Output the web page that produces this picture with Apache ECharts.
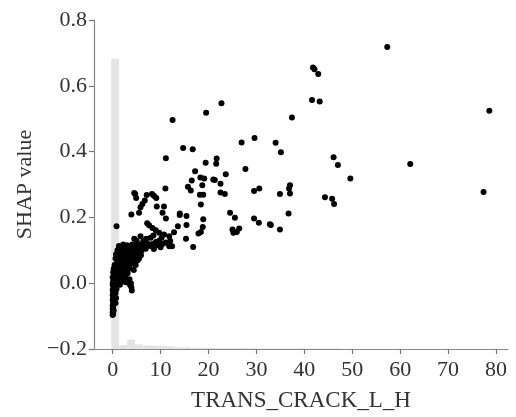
<!DOCTYPE html>
<html>
<head>
<meta charset="utf-8">
<script src="https://cdn.jsdelivr.net/npm/echarts@6/dist/echarts.min.js"></script>
<style>html,body{margin:0;padding:0;background:#fff}#c{width:516px;height:417px}</style>
</head>
<body>
<div id="c"></div>
<script>
// ---- data ----
const xTickLabels = [0, 10, 20, 30, 40, 50, 60, 70, 80];
const yTickLabels = [-0.2, 0.0, 0.2, 0.4, 0.6, 0.8];
const xAxisName = 'TRANS_CRACK_L_H';
const yAxisName = 'SHAP value';

// histogram of feature values (bin edges and bar tops in SHAP-axis units)
const histEdges = [-0.3, 1.35, 3.0, 4.65, 6.3, 7.95, 9.6, 11.25, 12.9, 14.55, 16.2, 17.85, 19.5, 21.15, 22.8, 24.45, 26.1, 27.75, 29.4, 31.05, 32.7, 34.35, 36.0, 37.65, 39.3, 40.95, 42.6, 44.25, 45.9, 47.55];
const histTops = [0.682, -0.188, -0.171, -0.186, -0.189, -0.19, -0.19, -0.192, -0.195, -0.195, -0.196, -0.196, -0.197, -0.197, -0.197, -0.197, -0.197, -0.198, -0.198, -0.198, -0.198, -0.198, -0.198, -0.198, -0.198, -0.198, -0.198, -0.198, -0.198];

// scatter: feature value (x) and SHAP value (y)
const sparsePoints = [
  [57.3,0.718],[78.6,0.524],[77.4,0.277],[62.1,0.362],[49.6,0.318],
  [41.8,0.656],[42.1,0.650],[42.9,0.636],[41.6,0.557],[43.2,0.552],[37.4,0.504],
  [46.1,0.383],[47.0,0.359],[44.3,0.261],[45.8,0.257],[46.2,0.241],
  [34.0,0.427],[35.1,0.398],[37.0,0.298],[36.8,0.288],[34.9,0.271],[37.0,0.273],[36.7,0.212],[33.0,0.177],[34.9,0.163],
  [29.6,0.441],[26.9,0.428],[14.7,0.411],[16.7,0.407],
  [19.4,0.366],[21.7,0.379],[21.6,0.363],[17.2,0.34],[27.7,0.347],[23.6,0.331],[16.5,0.312],[18.3,0.321],[19.1,0.318],[21.0,0.315],[21.3,0.314],
  [18.7,0.298],[22.5,0.302],[15.7,0.293],[16.3,0.282],[29.5,0.28],[30.6,0.288],[18.2,0.269],[18.9,0.269],[22.5,0.276],[23.4,0.271],
  [18.4,0.239],[24.5,0.214],[25.5,0.199],[29.5,0.197],[30.5,0.184],[32.8,0.179],[14.0,0.212],[15.4,0.204],[15.4,0.177],[18.9,0.194],
  [18.8,0.171],[18.4,0.156],[17.9,0.151],[15.3,0.135],[25.0,0.163],[25.2,0.153],[26.4,0.166],[25.9,0.156],[16.8,0.11],
  [22.7,0.547],[19.5,0.518],[12.5,0.496],[11.1,0.380],[11.0,0.288]
];
const upperBranch = [
  [4.5,0.274],[4.7,0.271],[4.9,0.259],[7.1,0.268],[8.6,0.266],[9.1,0.259],[6.7,0.251],[6.2,0.241],[9.2,0.233],[10.7,0.233],
  [5.8,0.231],[3.9,0.209],[5.5,0.214],[10.4,0.214],[11.1,0.197],[14.0,0.207],[0.8,0.173],[8.2,0.271]
];
const columnAtZero = [
  [0,-0.097],[0.1,-0.092],[0,-0.088],[0.2,-0.083],[0,-0.078],[0.1,-0.072],[0,-0.067],[0.2,-0.062],[0.1,-0.056],[0,-0.051],
  [0.2,-0.046],[0.1,-0.041],[0,-0.036],[0.3,-0.031],[0.1,-0.026],[0,-0.021],[0.2,-0.016],[0.4,-0.012],[0.1,-0.008],[0,-0.003],
  [0.3,0.002],[0.1,0.006],[0.5,0.010],[0.2,0.014],[0,0.018],[0.6,0.022],[0.3,0.027],[0.1,0.033],[0.5,0.038],[0.2,0.044],
  [0.7,0.048],[0.4,0.055],[0.6,-0.06],[0.7,-0.045],[0.6,-0.03],[0.8,-0.018],[0.7,-0.005]
];
const denseBody = [
  [1.0,0.005],[1.3,0.015],[1.1,0.028],[1.6,0.035],[1.2,0.045],[1.8,0.05],[1.4,0.06],[2.1,0.062],[1.0,0.068],[1.7,0.072],
  [2.4,0.075],[1.2,0.08],[2.0,0.085],[2.7,0.088],[1.5,0.092],[2.3,0.097],[3.1,0.095],[1.0,0.1],[1.9,0.105],[2.6,0.108],
  [3.4,0.104],[1.3,0.113],[2.2,0.118],[3.0,0.115],[3.8,0.112],[0.7,0.088],[0.9,0.075],[2.0,0.022],[2.5,0.04],[2.9,0.055],
  [3.3,0.065],[2.6,0.018],[3.1,0.03],[3.6,0.045],[3.9,0.06],[4.3,0.07],[3.7,0.08],[4.2,0.09],[4.7,0.085],[4.5,0.1],
  [5.0,0.105],[4.1,0.118],[5.3,0.092],[5.6,0.11],[6.0,0.098],[3.5,0.012],[3.8,0.0],[3.9,-0.012],[4.0,-0.022],[3.6,-0.005],
  [4.4,0.04],[4.8,0.055],[5.2,0.07],[5.5,0.075],[5.9,0.085],[1.5,-0.005],[2.2,0.005],[2.8,0.003],
  [0.8,0.058],[1.5,0.078],[2.3,0.045],[2.9,0.072],[3.4,0.085],[1.9,0.038],[0.9,0.02],[2.7,0.03],[4.0,0.098],[4.6,0.112],
  [3.2,0.048],[1.7,0.098],[2.5,0.058],[3.6,0.098],[5.1,0.118],[0.6,0.075]
];
const denseUpper = [
  [6.5,0.114],[6.9,0.105],[7.3,0.12],[7.8,0.113],[8.3,0.119],[8.6,0.104],[9.0,0.125],[9.4,0.115],[10.0,0.109],[10.5,0.12],
  [11.1,0.124],[11.8,0.112],[12.4,0.112],[12.0,0.128],[5.8,0.143],[6.4,0.128],[7.0,0.135],[7.9,0.138],[8.5,0.145],[9.0,0.161],
  [9.7,0.153],[9.7,0.129],[10.2,0.138],[10.7,0.148],[11.8,0.143],[8.3,0.168],[7.2,0.182],[7.6,0.176],[13.6,0.173],
  [12.8,0.155],[5.0,0.128],[4.5,0.135],[6.1,0.12]
];

// ---- chart ----
const fmtY = v => (v < 0 ? '\u2212' + Math.abs(v).toFixed(1) : v.toFixed(1));
const font = "'Liberation Serif', 'Times New Roman', Times, serif";
const chart = echarts.init(document.getElementById('c'), null, {renderer: 'canvas'});
const histData = histTops.map((t, i) => [histEdges[i], histEdges[i + 1], t]);
const points = [].concat(sparsePoints, upperBranch, columnAtZero, denseBody, denseUpper);
const tickStyle = {color: '#777', width: 1.2};

chart.setOption({
  animation: false,
  backgroundColor: '#fff',
  grid: {left: 94, right: 8, top: 20, bottom: 57, containLabel: false},
  xAxis: {
    type: 'value', min: -3.9, max: 82.5,
    name: xAxisName, nameLocation: 'middle', nameGap: 40,
    nameTextStyle: {fontFamily: font, fontSize: 23, color: '#333'},
    axisLine: {show: true, onZero: false, lineStyle: {color: '#888', width: 1.2}},
    axisTick: {show: true, inside: false, length: 5, lineStyle: tickStyle, customValues: xTickLabels},
    axisLabel: {fontFamily: font, fontSize: 22, color: '#333', margin: 10, customValues: xTickLabels},
    splitLine: {show: false}
  },
  yAxis: {
    type: 'value', min: -0.2, max: 0.8, interval: 0.2,
    name: yAxisName, nameLocation: 'middle', nameGap: 57,
    nameTextStyle: {fontFamily: font, fontSize: 22, color: '#333'},
    axisLine: {show: true, onZero: false, lineStyle: {color: '#888', width: 1.2}},
    axisTick: {show: true, inside: false, length: 5, lineStyle: tickStyle, customValues: yTickLabels},
    axisLabel: {fontFamily: font, fontSize: 22, color: '#333', margin: 7, formatter: fmtY, customValues: yTickLabels},
    splitLine: {show: false}
  },
  series: [
    {
      type: 'custom', z: 1, silent: true,
      encode: {x: [0, 1], y: 2},
      data: histData,
      renderItem: function (params, api) {
        const p0 = api.coord([api.value(0), api.value(2)]);
        const p1 = api.coord([api.value(1), -0.2]);
        return {type: 'rect', shape: {x: p0[0], y: p0[1], width: p1[0] - p0[0], height: p1[1] - p0[1]},
                style: {fill: '#e4e4e4'}};
      }
    },
    {
      type: 'scatter', z: 3, silent: true,
      symbol: 'circle', symbolSize: 6,
      itemStyle: {color: '#000', opacity: 1},
      data: points
    }
  ]
});
</script>
</body>
</html>
